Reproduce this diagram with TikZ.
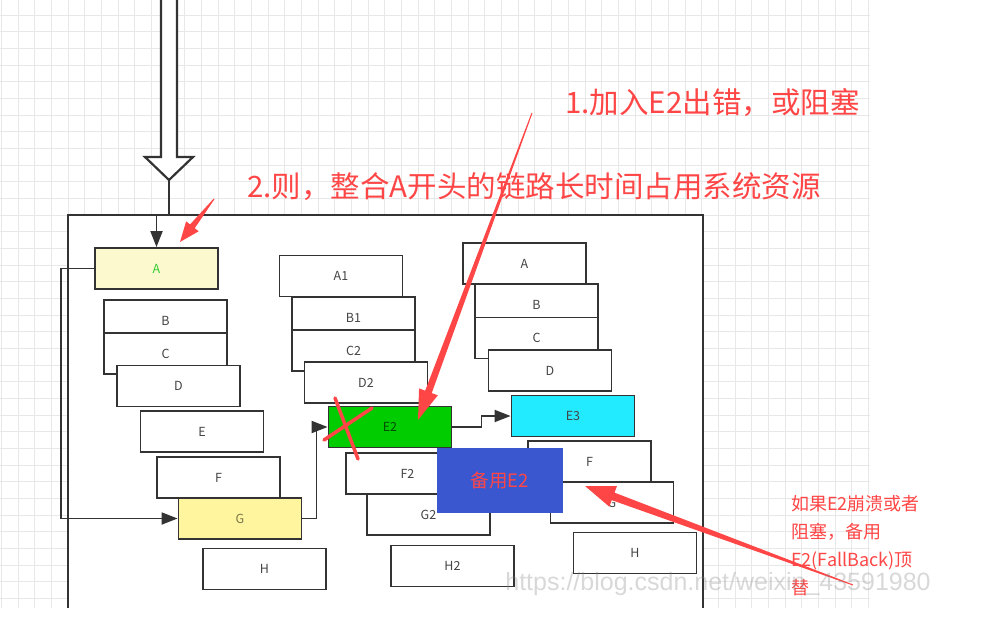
\documentclass[tikz,border=0pt]{standalone}
\usepackage{fontspec}
\setmainfont{Noto Sans CJK SC}
\newfontfamily\wmfont{Liberation Sans}
\usetikzlibrary{arrows.meta,calc}

\definecolor{boxline}{HTML}{333333}
\definecolor{boxtext}{HTML}{444444}
\definecolor{gridgray}{HTML}{E8E8E8}
\definecolor{hintred}{HTML}{FF4646}
\definecolor{paleyellow}{HTML}{FDF9CF}
\definecolor{deepyellow}{HTML}{FFF59E}
\definecolor{okgreen}{HTML}{00CC00}
\definecolor{nextcyan}{HTML}{22EAFF}
\definecolor{backupblue}{HTML}{3A57D0}

% tapered red hint arrow: tail, tip, head length, head half width, shaft half width
\newcommand{\hintarrow}[5]{%
  \coordinate (hb) at ($(#2)!#3pt!(#1)$);
  \fill[hintred] ($(#1)!0.5pt!90:(#2)$) -- ($(hb)!#5pt!90:(#2)$) -- ($(hb)!#4pt!90:(#2)$)
    -- (#2) -- ($(hb)!#4pt!-90:(#2)$) -- ($(hb)!#5pt!-90:(#2)$) -- ($(#1)!0.5pt!-90:(#2)$) -- cycle;
}

\tikzset{
  blk/.style={draw=boxline, line width=1.8pt, fill=white, minimum width=123pt,
    minimum height=41pt, inner sep=0pt, text=boxtext, font=\fontsize{12.5}{14}\selectfont},
  flow/.style={draw=boxline, line width=1.8pt, -{Triangle[length=16pt,width=12pt]}},
  frame/.style={draw=boxline, line width=2.2pt, fill=white},
  cross/.style={draw=hintred, line width=3.5pt, line cap=round},
  note/.style={text=hintred, font=\fontsize{29.5}{32}\selectfont, inner sep=0pt},
}

\begin{document}
\begin{tikzpicture}[x=1pt, y=-1pt]

  \useasboundingbox (0,0) rectangle (983,618);
  \fill[white] (0,0) rectangle (983,618);

  % -- Background grid --
  \foreach \i in {0,...,52}
    \draw[gridgray, line width=0.9pt] ({1.6+16.667*\i},0) -- ++(0,608);
  \foreach \j in {0,...,35}
    \draw[gridgray, line width=0.9pt] (0,{15+16.667*\j}) -- ++(870,0);

  % -- Outer frame (open at the bottom) --
  \path[frame] (68,608) -- (68,215) -- (703,215) -- (703,608);

  % -- Hollow input arrow --
  \coordinate (bigtip) at (169,180);
  \draw[boxline, line width=2.2pt, fill=white, line join=miter]
    (161,-5) -- (161,157) -- (145,157) -- (bigtip) -- (193,157) -- (177,157) -- (177,-5);

  % -- First chain --
  \node[blk, fill=paleyellow, text=green!60!gray] (A) at (156.5,268.5) {A};
  \node[blk] (B) at (165.5,320.5) {B};
  \node[blk] (C) at (165.5,353.5) {C};
  \node[blk] (D) at (178.5,386) {D};
  \node[blk] (E) at (202,431.5) {E};
  \node[blk] (F) at (218.5,477.5) {F};
  \node[blk, fill=deepyellow, text=yellow!40!black] (G) at (240,518.5) {G};
  \node[blk] (H) at (264.5,569) {H};

  % -- Second chain --
  \node[blk] (A1) at (341,276) {A1};
  \node[blk] (B1) at (353.5,317.5) {B1};
  \node[blk] (C2) at (353.5,350.5) {C2};
  \node[blk] (D2) at (366,382.5) {D2};
  \node[blk, fill=okgreen, text=black!70!green] (E2) at (390,427) {E2};
  \node[blk] (F2) at (407.5,473.5) {F2};
  \node[blk] (G2) at (428.5,514.5) {G2};
  \node[blk] (H2) at (452.5,566) {H2};

  % -- Third chain --
  \node[blk] (A3) at (524.5,263.5) {A};
  \node[blk] (B3) at (536.5,304.5) {B};
  \node[blk] (C3) at (536.5,338) {C};
  \node[blk] (D3) at (550,370.5) {D};
  \node[blk, fill=nextcyan] (E3) at (573,416) {E3};
  \node[blk] (F3) at (589.5,461.5) {F};
  \node[blk] (G3) at (612,502.5) {G};
  \node[blk] (H3) at (635,553) {H};

  % -- Connectors --
  \draw[flow] (bigtip) -- ++(0,35) -| (A.north);
  \draw[flow] (A.west) -- ++(-33,0) |- (G.west);
  \draw[flow] (G.east) -- ++(14,0) |- (E2.west);
  \draw[flow] (E2.east) -- ++(29,0) |- (E3.west);

  % -- Fallback block --
  \node[fill=backupblue, minimum width=126pt, minimum height=65pt, inner sep=0pt,
        text=hintred, font=\fontsize{18.5}{20}\selectfont] (bk) at (500,480.5) {备用E2};

  % -- Failure mark on E2 --
  \draw[cross] (335,398) -- (358,459);
  \draw[cross] (324,440) -- (372,408);

  % -- Notes --
  \node[note, anchor=west] (note1) at (565,103) {1.加入E2出错，或阻塞};
  \node[note, anchor=west] (note2) at (247,187) {2.则，整合A开头的链路长时间占用系统资源};
  \node[note, anchor=north west, align=left, font=\fontsize{18}{28}\selectfont]
    (note3) at (791,495) {如果E2崩溃或者\\阻塞，备用\\E2(FallBack)顶\\替};

  % -- Red hint arrows --
  \coordinate (t1) at (532,113);  \coordinate (p1) at (418,420);
  \coordinate (t2) at (214,199);  \coordinate (p2) at (180,242);
  \coordinate (t3) at (853,585);  \coordinate (p3) at (585,486);
  \hintarrow{t1}{p1}{30}{10}{3.5}
  \hintarrow{t2}{p2}{20}{8}{3}
  \hintarrow{t3}{p3}{30}{11}{4}

  % -- Watermark --
  \node[anchor=base, text=gray, opacity=0.3, font=\wmfont\fontsize{25}{28}\selectfont, inner sep=0pt]
    (wm) at (718,590) {https://blog.csdn.net/weixin\_43591980};

\end{tikzpicture}
\end{document}
